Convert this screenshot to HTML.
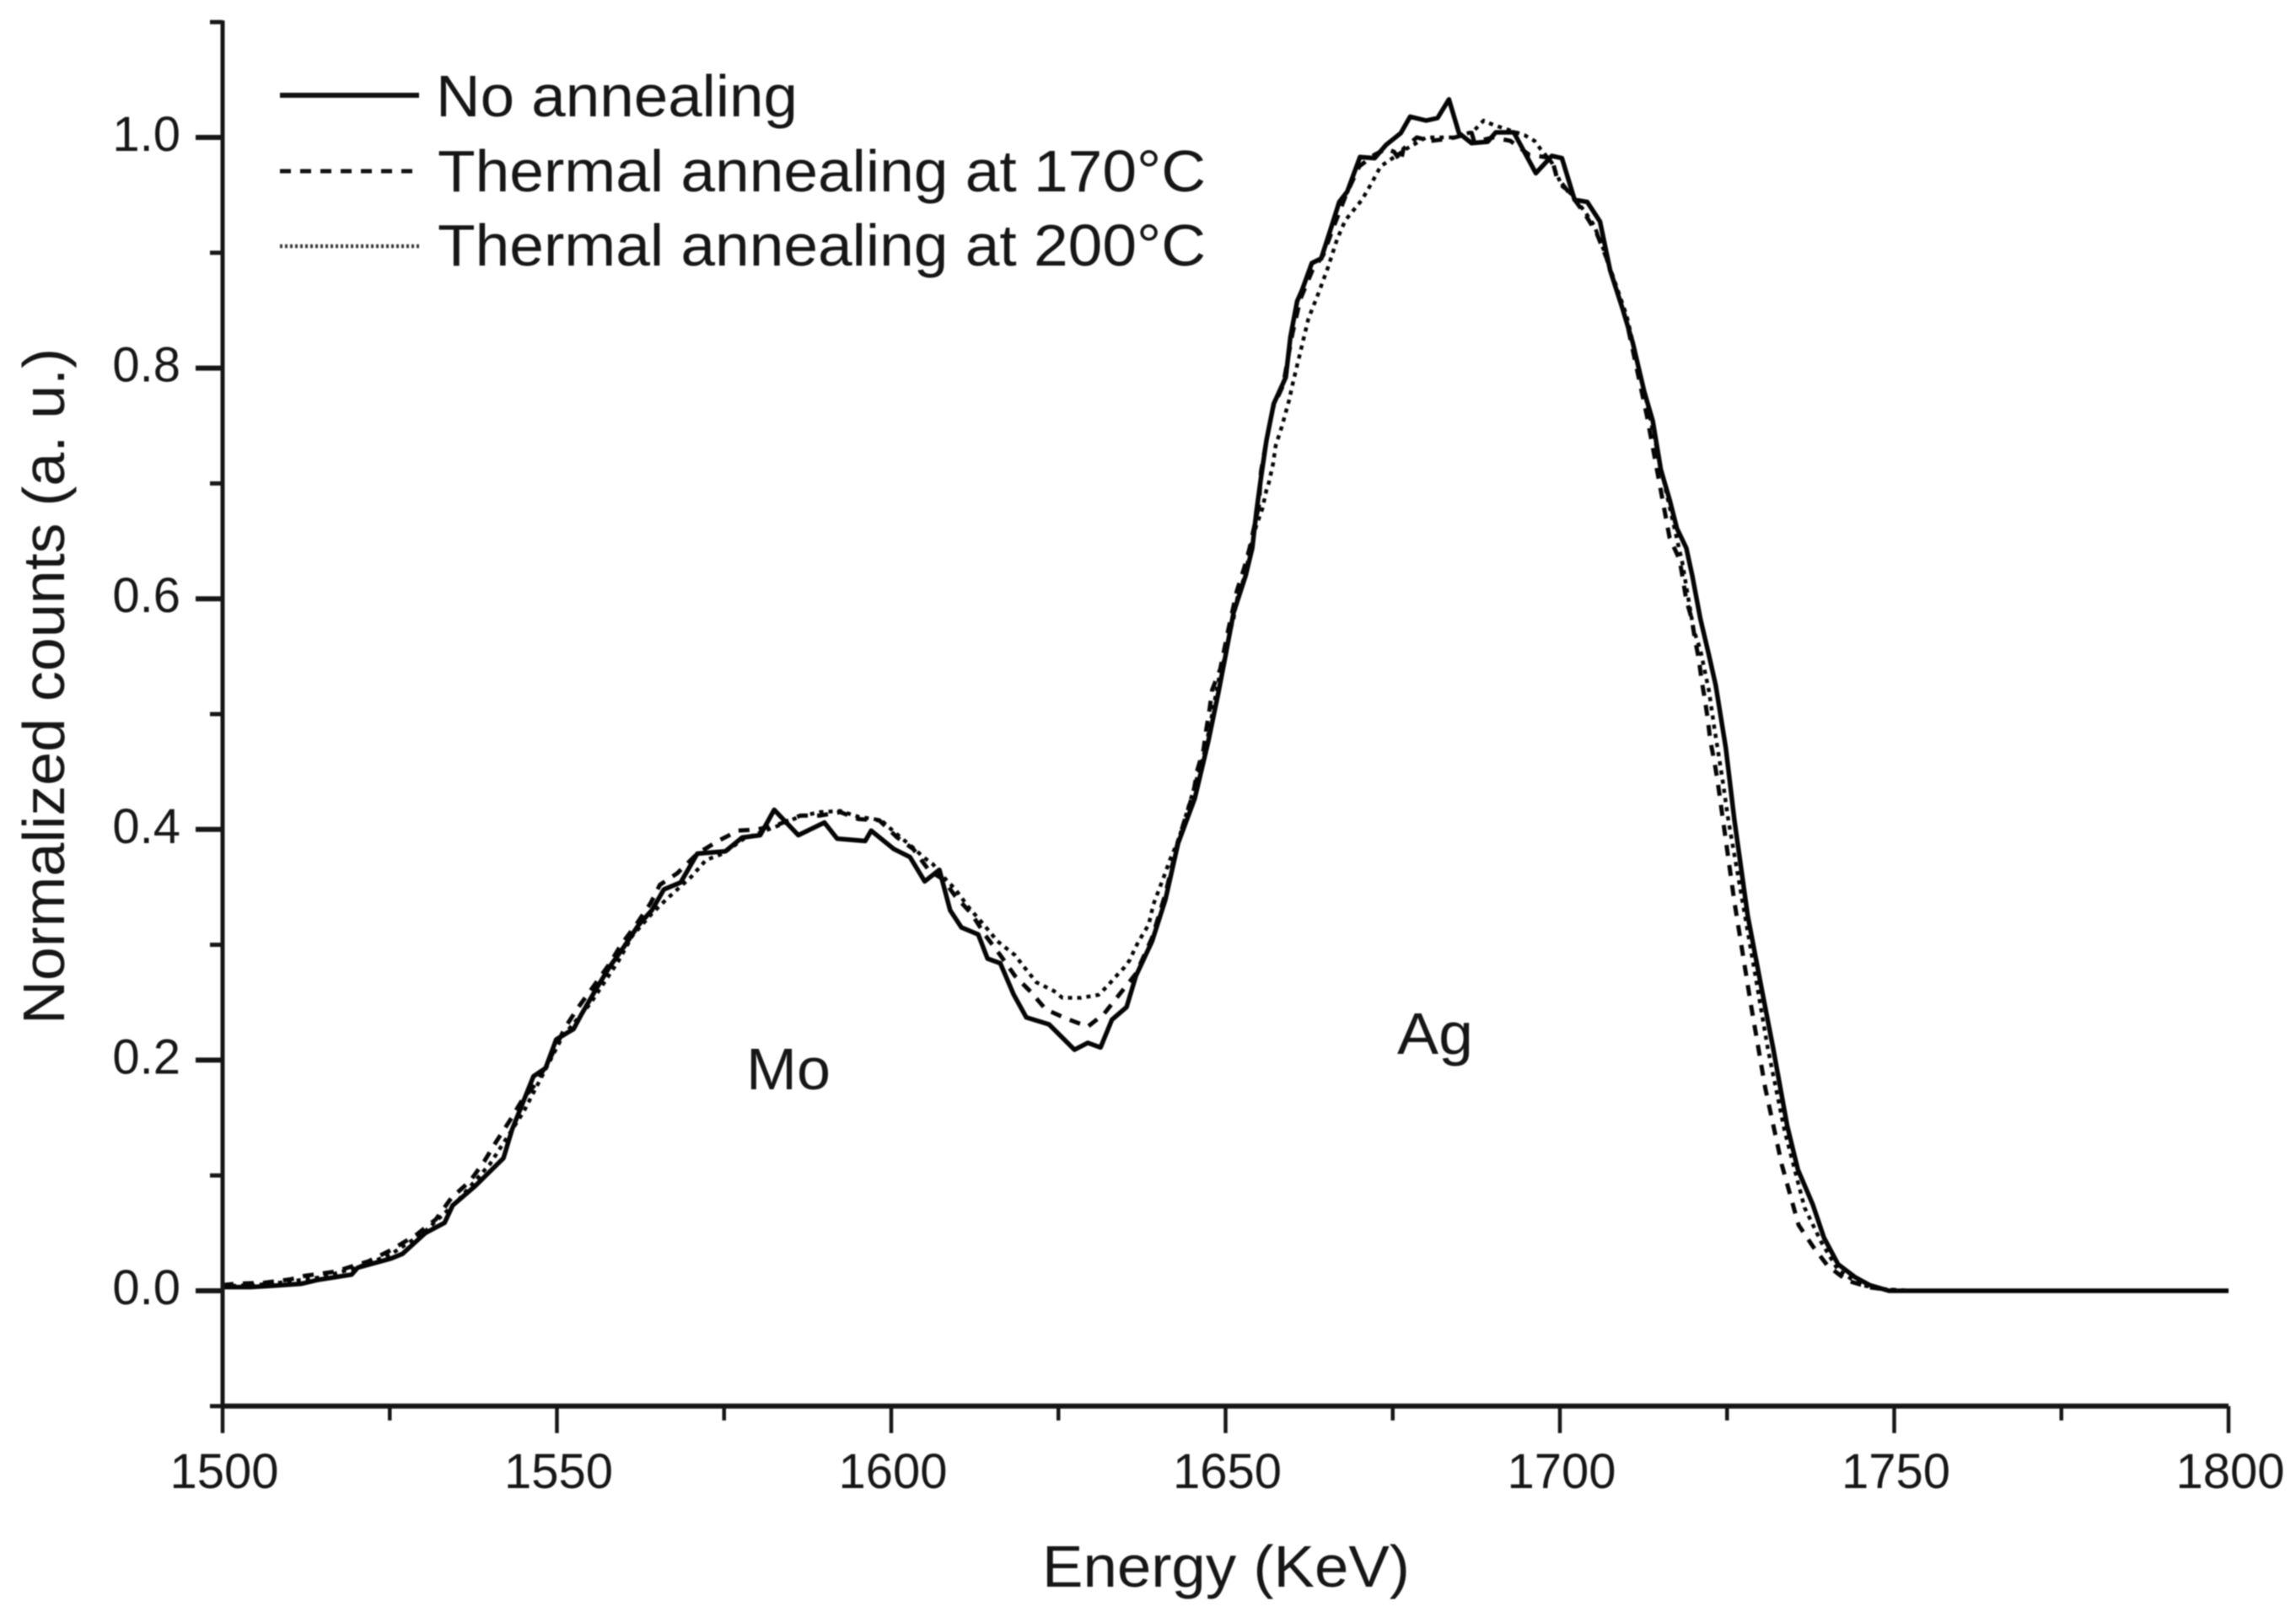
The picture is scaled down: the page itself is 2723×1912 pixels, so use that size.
<!DOCTYPE html>
<html lang="en">
<head>
<meta charset="utf-8">
<title>Normalized counts vs energy</title>
<style>
html,body{margin:0;padding:0;background:#fff;width:2723px;height:1912px;overflow:hidden}
#chart{display:block;filter:blur(0.8px)}
text{font-family:"Liberation Sans",sans-serif;fill:#161616}
</style>
</head>
<body>
<svg id="chart" xmlns="http://www.w3.org/2000/svg" width="2723" height="1912" viewBox="0 0 2723 1912">
<rect width="2723" height="1912" fill="#fff"/>
<g id="series"></g>
<g id="axes"></g>
<g id="legend">
<line x1="332" x2="497" y1="113" y2="113" stroke="#111" stroke-width="6"/>
<text x="517" y="138" font-size="70" textLength="429" lengthAdjust="spacingAndGlyphs">No annealing</text>
<line x1="332" x2="492" y1="203" y2="203" stroke="#111" stroke-width="5" stroke-dasharray="13 11"/>
<text x="519" y="227" font-size="70" textLength="911" lengthAdjust="spacingAndGlyphs">Thermal annealing at 170°C</text>
<line x1="332" x2="500" y1="292" y2="292" stroke="#333" stroke-width="4.5" stroke-dasharray="3 3"/>
<text x="519" y="315" font-size="70" textLength="911" lengthAdjust="spacingAndGlyphs">Thermal annealing at 200°C</text>
</g>
<text x="885" y="1292" font-size="70" textLength="100" lengthAdjust="spacingAndGlyphs">Mo</text>
<text x="1657" y="1250" font-size="70" textLength="90" lengthAdjust="spacingAndGlyphs">Ag</text>
<text x="1236" y="1882" font-size="70" textLength="436" lengthAdjust="spacingAndGlyphs">Energy (KeV)</text>
<text x="0" y="0" transform="translate(76 1215) rotate(-90)" font-size="70" textLength="802" lengthAdjust="spacingAndGlyphs">Normalized counts (a. u.)</text>
</svg>
<script>
const xMajorTicks = [1500, 1550, 1600, 1650, 1700, 1750, 1800];
const xMinorTicks = [1525, 1575, 1625, 1675, 1725, 1775];
const yMajorTicks = [0, 0.2, 0.4, 0.6, 0.8, 1.0];
const yMinorTicks = [-0.1, 0.1, 0.3, 0.5, 0.7, 0.9, 1.1];
const yTickLabels = ['0.0', '0.2', '0.4', '0.6', '0.8', '1.0'];

const noAnnealEnergy = [1500,1504.2,1507.6,1511.7,1514.3,1519.3,1520.2,1525.2,1526.9,1530.3,1533.2,1534.4,1537.8,1542,1543.3,1546.5,1548.3,1549.9,1552.5,1553.7,1555.9,1557.9,1560,1562.2,1564.2,1566,1568.5,1571,1575.2,1577.7,1580.4,1582.5,1586.1,1590,1591.9,1596.1,1597,1600.4,1602.8,1605,1607.2,1608.8,1610.5,1613,1614.4,1616.3,1618.3,1620.2,1623.6,1627.4,1629.4,1631.3,1633,1635.2,1636.6,1639,1641,1642.9,1645.4,1647.4,1648.9,1650,1651.2,1653,1654,1654.6,1655.3,1656.1,1657.2,1659,1659.7,1660.7,1661.4,1662.9,1664.3,1665.8,1667,1668.2,1670.1,1672.3,1674,1676.2,1677.6,1680,1681.7,1683.4,1684.9,1686.8,1689.2,1690.4,1693.1,1696.4,1698.8,1700.3,1702.2,1704.1,1706,1707.5,1709.4,1710.9,1712.6,1713.9,1715.1,1716.4,1717.5,1718.9,1719.8,1721,1722.3,1723.3,1724.8,1726.1,1728.1,1730.3,1731.9,1734,1735.6,1737.8,1739.5,1741.6,1744.1,1746.3,1749.2,1800];
const noAnnealCounts = [0.0032,0.0032,0.0044,0.006,0.0095,0.014,0.02,0.028,0.032,0.05,0.059,0.074,0.091,0.115,0.14,0.186,0.193,0.218,0.227,0.24,0.262,0.281,0.298,0.317,0.33,0.348,0.354,0.379,0.381,0.393,0.395,0.417,0.395,0.406,0.392,0.39,0.399,0.383,0.376,0.355,0.365,0.33,0.315,0.309,0.288,0.284,0.257,0.237,0.231,0.209,0.215,0.211,0.235,0.246,0.273,0.303,0.339,0.388,0.427,0.476,0.518,0.551,0.588,0.62,0.644,0.675,0.705,0.737,0.769,0.792,0.827,0.858,0.867,0.891,0.895,0.922,0.944,0.953,0.983,0.982,0.9935,1.0037,1.018,1.0146,1.0168,1.033,1.0037,0.995,0.9963,1.0044,1.0044,0.969,0.984,0.982,0.946,0.944,0.927,0.885,0.851,0.822,0.78,0.754,0.712,0.686,0.661,0.644,0.62,0.583,0.551,0.525,0.471,0.408,0.325,0.258,0.21,0.143,0.105,0.075,0.046,0.023,0.012,0.005,0,0];

const anneal170Energy = [1500,1501.7,1506.3,1510.1,1512.2,1516.8,1521.8,1525.2,1529,1531.9,1534.2,1537,1539.1,1541,1542.9,1544.7,1546.6,1548.7,1551.2,1553.1,1555.6,1557.8,1559.6,1561.9,1564,1565.4,1568,1571,1574.1,1577.1,1580,1583,1586.4,1589.3,1592.4,1595.1,1598.2,1600.9,1603.3,1605.7,1607.7,1609.6,1612,1614.1,1616.3,1618.5,1620.9,1623.1,1626.2,1629.4,1631.8,1634.4,1636.6,1639,1641,1642.9,1645.2,1645.8,1646.7,1647.1,1647.6,1648,1649.2,1650.4,1651.7,1652.8,1653.6,1654.3,1655,1655.3,1656.1,1657.1,1658.6,1660,1661.2,1663,1664.6,1666,1668,1670,1672.3,1674,1675.2,1676.2,1676.6,1678.6,1680.7,1682.2,1684.3,1686.8,1687.2,1690,1692.6,1695.4,1698.8,1699.5,1702.2,1703.7,1705.5,1707,1710,1713,1716.4,1717.9,1718.4,1718.9,1719.7,1720.2,1720.8,1721.2,1721.7,1722.1,1722.5,1723.1,1723.6,1726.1,1728.6,1730.7,1733.2,1735.7,1737.9,1740,1742.9,1746.3,1750.4,1800];
const anneal170Counts = [0.005,0.006,0.007,0.0099,0.0129,0.0166,0.0255,0.0353,0.0487,0.062,0.0804,0.095,0.112,0.13,0.147,0.1644,0.178,0.198,0.228,0.245,0.265,0.283,0.3,0.318,0.336,0.352,0.362,0.379,0.39,0.399,0.4,0.404,0.412,0.412,0.415,0.409,0.408,0.393,0.383,0.364,0.357,0.342,0.327,0.308,0.291,0.273,0.259,0.244,0.236,0.229,0.24,0.259,0.275,0.306,0.344,0.39,0.432,0.452,0.469,0.486,0.504,0.521,0.539,0.573,0.607,0.627,0.644,0.663,0.681,0.71,0.737,0.766,0.785,0.83,0.86,0.885,0.898,0.92,0.95,0.975,0.985,0.99,0.9876,0.979,0.99,1.0,0.997,0.998,1.0,1.004,0.996,1.0,0.997,0.985,0.982,0.966,0.946,0.934,0.917,0.895,0.84,0.759,0.653,0.634,0.617,0.599,0.583,0.565,0.547,0.529,0.512,0.496,0.477,0.459,0.4415,0.337,0.247,0.176,0.109,0.057,0.038,0.022,0.009,0.003,0,0];

const anneal200Energy = [1500,1505,1510,1515,1520,1525,1530,1535,1540,1545,1550.8,1555,1559.2,1561.3,1564.2,1566.3,1570.1,1572.3,1574.8,1578,1583,1586.4,1589.3,1592.4,1595.1,1598.5,1600.4,1603.3,1604.8,1606.2,1608.1,1609.6,1611.5,1613.9,1615.9,1618.5,1619.7,1621.7,1624.3,1625.6,1628.4,1631,1632.3,1633.5,1634.8,1635.7,1636.3,1637,1638.5,1639.2,1640.7,1641.7,1642.9,1643.6,1645,1647,1648,1649.2,1650,1650.4,1651.2,1651.8,1653,1653.7,1654.6,1655.5,1656.1,1656.5,1657.1,1657.5,1658.4,1659.5,1660.1,1661.4,1662.4,1663.9,1665.3,1666.7,1667.9,1670.4,1671.8,1673.2,1677,1680,1684,1687,1688.6,1690,1692.6,1694.7,1696.2,1697.1,1698.8,1700.3,1701.7,1703.7,1705.1,1706.6,1710,1713,1716,1718.3,1720,1721,1722.3,1723.1,1724.3,1725.2,1729,1731.1,1733.6,1736.6,1739.1,1741.6,1745,1748.3,1752.6,1800];
const anneal200Counts = [0.004,0.005,0.008,0.012,0.02,0.031,0.05,0.077,0.11,0.155,0.22,0.249,0.286,0.308,0.327,0.339,0.359,0.3735,0.379,0.392,0.403,0.4115,0.415,0.416,0.411,0.408,0.398,0.384,0.376,0.37,0.357,0.348,0.333,0.317,0.303,0.291,0.282,0.2675,0.26,0.254,0.254,0.2566,0.264,0.272,0.28,0.287,0.295,0.303,0.3175,0.335,0.358,0.374,0.39,0.403,0.43,0.47,0.5,0.537,0.551,0.566,0.583,0.602,0.622,0.644,0.6635,0.678,0.694,0.701,0.717,0.733,0.749,0.772,0.788,0.819,0.843,0.865,0.887,0.912,0.928,0.946,0.96,0.975,0.99,1.0,1.0,1.005,1.0146,1.011,1.006,1.002,0.997,0.99,0.978,0.958,0.951,0.936,0.924,0.902,0.845,0.77,0.69,0.6316,0.573,0.556,0.52,0.488,0.444,0.408,0.281,0.21,0.139,0.072,0.042,0.018,0.005,0.0015,0,0];

const SVG_NS = 'http://www.w3.org/2000/svg';
const axesGroup = document.getElementById('axes');
const seriesGroup = document.getElementById('series');

function xScale(energy) { return 264 + (energy - 1500) * 7.93; }
function yScale(value) { return 1531 - value * 1368; }

function makeLine(x1, y1, x2, y2, width) {
  const el = document.createElementNS(SVG_NS, 'line');
  el.setAttribute('x1', x1);
  el.setAttribute('y1', y1);
  el.setAttribute('x2', x2);
  el.setAttribute('y2', y2);
  el.setAttribute('stroke', '#161616');
  el.setAttribute('stroke-width', width);
  axesGroup.appendChild(el);
  return el;
}

function makeLabel(x, y, anchor, content) {
  const el = document.createElementNS(SVG_NS, 'text');
  el.setAttribute('x', x);
  el.setAttribute('y', y);
  el.setAttribute('text-anchor', anchor);
  el.setAttribute('font-size', '58');
  el.textContent = content;
  axesGroup.appendChild(el);
  return el;
}

function makeSeries(energies, counts, dash, width) {
  const el = document.createElementNS(SVG_NS, 'path');
  const d = energies.map((e, i) => (i ? 'L' : 'M') + xScale(e).toFixed(1) + ' ' + yScale(counts[i]).toFixed(1)).join(' ');
  el.setAttribute('d', d);
  el.setAttribute('fill', 'none');
  el.setAttribute('stroke', '#050505');
  el.setAttribute('stroke-width', width);
  el.setAttribute('stroke-linejoin', 'round');
  if (dash) el.setAttribute('stroke-dasharray', dash);
  seriesGroup.appendChild(el);
  return el;
}

const curve200 = makeSeries(anneal200Energy, anneal200Counts, '5 6', 4.5);


const curve170 = makeSeries(anneal170Energy, anneal170Counts, '13 11', 5);


const curveNone = makeSeries(noAnnealEnergy, noAnnealCounts, '', 5.5);



const yAxisLine = makeLine(xScale(1500), yScale(1.1) - 2, xScale(1500), yScale(-0.1), 5);


const xAxisLine = makeLine(xScale(1500), yScale(-0.1), xScale(1800), yScale(-0.1), 6);



xMajorTicks.forEach(function (v) {
  const tick = makeLine(xScale(v), yScale(-0.1), xScale(v), yScale(-0.1) + 32, 4.5);
  
  
  const label = makeLabel(xScale(v) + 2, 1765, 'middle', String(v));
  
  
});
xMinorTicks.forEach(function (v) {
  const tick = makeLine(xScale(v), yScale(-0.1), xScale(v), yScale(-0.1) + 17, 4.5);
  
  
});
yMajorTicks.forEach(function (v, i) {
  const tick = makeLine(xScale(1500) - 32, yScale(v), xScale(1500), yScale(v), 6);
  
  
  const label = makeLabel(214, yScale(v) + 16, 'end', yTickLabels[i]);
  
  
});
yMinorTicks.forEach(function (v) {
  const tick = makeLine(xScale(1500) - 15, yScale(v), xScale(1500), yScale(v), 5);
  
  
});
</script>
</body>
</html>
